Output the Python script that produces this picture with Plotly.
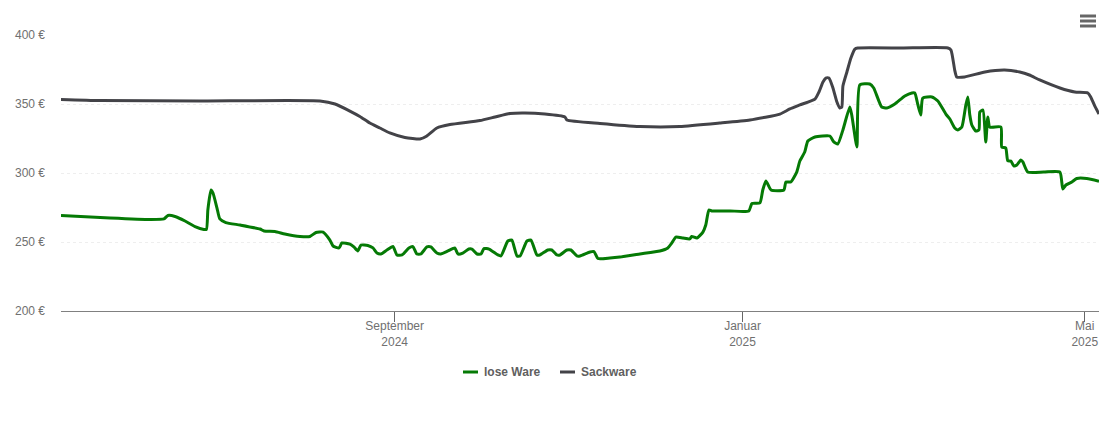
import pandas as pd
import plotly.graph_objects as go

start = pd.Timestamp("2024-05-07")

# days since start / price in euro
lose_days = [0, 17.2, 31.2, 36.1, 37.5, 40, 43.5, 47, 50.1, 51, 51.5, 52.6, 53.3, 54.7, 55.7, 57.8, 62.8, 69.8, 71.2,
             75, 78.5, 83.8, 87.3, 89.4, 91.9, 94.3, 95.4, 97.5, 98.5, 101.3, 102.7, 104.1, 105.2, 107.6, 109.4,
             110.8, 112.2, 114.3, 116.4, 117.8, 119.6, 122, 123.4, 124.8, 126.2, 128.3, 129.7, 131.8, 133.2, 135.7,
             138.1, 139.2, 140.9, 143, 144.1, 145.9, 147.3, 148.3, 150.1, 153.2, 154.3, 156.7, 158.1, 159.9, 161,
             163.4, 164.8, 166.9, 167.9, 170.7, 172.1, 173.9, 175, 177.4, 178.8, 180.9, 182, 185.5, 186.9, 188.3,
             192.5, 196, 203, 210, 212.8, 214.2, 215.6, 218.1, 220.5, 221.2, 223, 225.1, 226.1, 227.2, 228.2, 234.7,
             241.2, 242.3, 245.1, 246.1, 247.2, 249, 253.5, 254.2, 255.9, 258, 259.1, 260.8, 261.9, 264.4, 269.6, 271,
             272.4, 274.2, 276.6, 277.3, 279.1, 280.1, 283.6, 285, 287.8, 289.6, 292.4, 295.9, 298.4, 299.4, 300.5,
             301.5, 302.2, 305.4, 307.5, 310.3, 311.7, 313.4, 314.5, 315.9, 317.3, 318, 318.7, 319.4, 320.8, 321.9,
             322.2, 323.3, 324.3, 325, 325.7, 329.6, 329.9, 331.3, 332, 333.1, 334.1, 335.2, 336.6, 337.3, 339,
             344.6, 350.3, 351.3, 352.4, 354.5, 356.2, 359.7, 364]
lose_ware = [269.2, 267.4, 266.3, 266.7, 269.2, 268.5, 265.2, 261.2, 259.1, 259.1, 273.2, 287.7, 285.5, 274.6, 266.7,
             264.1, 262.3, 259.4, 258, 257.6, 255.8, 254, 254, 256.9, 257.2, 251.4, 247.1, 245.7, 249.3, 248.5,
             246.4, 243.5, 247.8, 247.5, 245.7, 242, 241.3, 244.2, 246.7, 240.6, 240.6, 245.7, 246.7, 241.3, 241.3,
             246.4, 246.4, 242, 241.3, 243.5, 245.7, 241.3, 242, 244.9, 244.9, 241.3, 241.3, 245.3, 244.9, 240.6,
             239.9, 250.7, 251.4, 239.9, 239.9, 250.7, 251.4, 240.6, 240.6, 244.2, 244.2, 240.6, 240.6, 244.2, 244.2,
             239.9, 239.9, 242.8, 243.1, 238, 238.4, 239.1, 241.3, 243.5, 245.7, 249.3, 253.6, 252.9, 252.2, 254,
             252.9, 257.2, 262.3, 273.2, 272.5, 272.5, 272.5, 277.9, 278.3, 287.7, 294.2, 287.7, 287.7, 293.5, 293.5,
             300.7, 308.7, 315.2, 323.2, 326.1, 326.8, 322.5, 321, 331.2, 347.8, 342, 318.8, 363.8, 364.5, 361.6, 347.8,
             347.1, 350, 355.8, 358, 358, 349.3, 342, 354.3, 355.1, 352.2, 342.7, 339.1, 332.6, 331.2, 333.3, 349.3,
             355.1, 342, 334.8, 330.4, 331.2, 344.2, 345.6, 322.5, 340.6, 333.3, 333.3, 318.8, 318.1, 308.9, 308.7,
             305.1, 305.8, 309.4, 308, 300.7, 300.7, 300.7, 288.4, 291.3, 293.5, 296, 296, 294]

sack_days = [0, 13.7, 48.7, 90.8, 96.1, 101.3, 104.8, 108.3, 111.8, 115.3, 120.6, 125.9, 128.3, 131.8, 136.4, 146.9,
             152.2, 157.4, 162.7, 169.7, 176.7, 177.4, 189, 203, 217, 231, 241.6, 252.1, 255.6, 259.1, 264.4, 265.8,
             267.2, 268.2, 269.3, 270.7, 272.1, 273.1, 273.8, 274.2, 275.6, 277, 278.4, 279.4, 295, 311, 312.1, 313.4,
             314.1, 316.9, 324, 330.9, 336.2, 339.6, 343.2, 350.3, 355.5, 360.1, 361.1, 362.5, 364]
sackware = [353.3, 352.5, 352.2, 352.2, 350, 344.9, 341, 336.2, 332.6, 329, 325.7, 324.6, 326.8, 332.6, 335.1, 338,
            340.6, 343.1, 343.5, 342.7, 340.6, 338.4, 335.9, 333.7, 333.7, 336.2, 338.4, 342.7, 346.4, 349.3, 353.6,
            358.7, 365.9, 368.8, 368.8, 361.6, 351.4, 347.1, 347.8, 363, 373.2, 383.3, 389.8, 390.6, 390.6, 390.6,
            389.1, 374.6, 369.6, 369.6, 373.2, 374.6, 373.2, 371, 367.4, 361.6, 358.7, 358, 355.1, 348.6, 342.7]

x_ticks = ["2024-09-01", "2025-01-01", "2025-05-01"]
x_labels = ["September<br>2024", "Januar<br>2025", "Mai<br>2025"]
y_ticks = [200, 250, 300, 350, 400]
y_labels = ["200 €", "250 €", "300 €", "350 €", "400 €"]

GREEN = "#057a05"
GREY = "#434348"


def to_dates(days):
    return start + pd.to_timedelta(days, unit="D")


def px_x(px):
    # page pixel to paper fraction (plot area starts at 61, is 1038 wide)
    return (px - 61) / 1038


def px_y(px):
    return (311 - px) / 276


fig = go.Figure()
fig.add_trace(go.Scatter(x=to_dates(lose_days), y=lose_ware, name="lose Ware", mode="lines",
                         line=dict(color=GREEN, width=3, shape="spline", smoothing=0.5)))
fig.add_trace(go.Scatter(x=to_dates(sack_days), y=sackware, name="Sackware", mode="lines",
                         line=dict(color=GREY, width=3, shape="spline", smoothing=0.5)))

fig.update_xaxes(range=[start, start + pd.Timedelta(days=364)], tickvals=x_ticks, ticktext=x_labels,
                 ticks="outside", ticklen=10, tickcolor="#666666", showline=True, linecolor="#808080",
                 showgrid=False, zeroline=False, ticklabelstandoff=-6, automargin=False,
                 tickfont=dict(size=12, color="#707070"))
fig.update_yaxes(range=[200, 400], tickvals=y_ticks, ticktext=y_labels, ticks="", ticklabelstandoff=15,
                 gridcolor="#eeeeee", griddash="dot", gridwidth=1, zeroline=False, showline=False,
                 automargin=False, tickfont=dict(size=12, color="#707070"))

shapes = []
# menu icon top right
for py in (16, 21, 26):
    shapes.append(dict(type="line", xref="paper", yref="paper", x0=px_x(1080), x1=px_x(1096),
                       y0=px_y(py), y1=px_y(py), line=dict(color="#666666", width=3)))

# legend: plotly's own keys can't go below 30px, this one has 15px keys
annotations = []
for name, color, key_x in (("lose Ware", GREEN, 463), ("Sackware", GREY, 560)):
    shapes.append(dict(type="line", xref="paper", yref="paper", x0=px_x(key_x), x1=px_x(key_x + 15),
                       y0=px_y(372), y1=px_y(372), line=dict(color=color, width=3)))
    annotations.append(dict(text=name, xref="paper", yref="paper", x=px_x(key_x + 20), y=px_y(372),
                            xanchor="left", yanchor="middle", showarrow=False, xshift=-1,
                            font=dict(size=12, color="#606060", weight="bold")))

# the page body has an 8px margin, so the figure is 8px smaller and starts at (8, 8)
fig.update_layout(
    width=1102, height=414,
    margin=dict(l=53, r=11, t=27, b=111),
    paper_bgcolor="white", plot_bgcolor="white",
    font=dict(family="Liberation Sans, Arial, sans-serif", color="#666666", size=12),
    shapes=shapes,
    annotations=annotations,
    showlegend=False,
    hovermode="x",
)

fig.write_html("out.html", config={"displayModeBar": False})
